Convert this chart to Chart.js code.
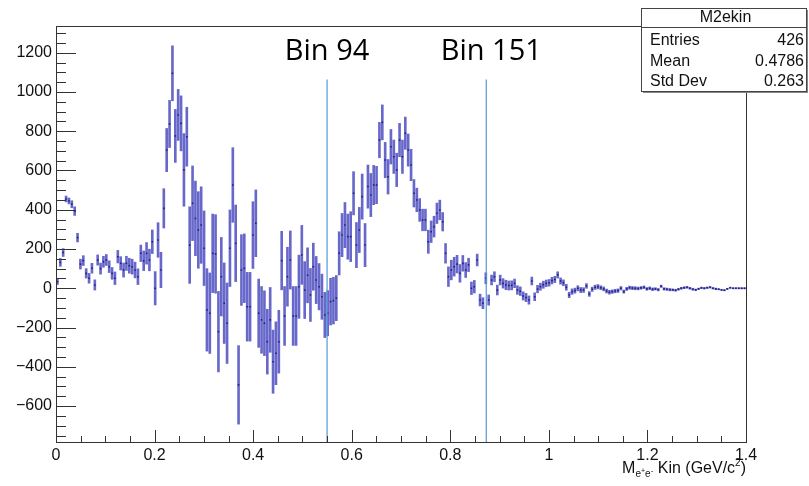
<!DOCTYPE html>
<html>
<head>
<meta charset="utf-8">
<title>M2ekin</title>
<script src="https://cdn.jsdelivr.net/npm/chart.js@4.4.1/dist/chart.umd.min.js"></script>
<style>
    html, body { margin: 0; padding: 0; background: #fff; }
    #wrap { width: 809px; height: 486px; }
</style>
</head>
<body>
<div id="wrap"><canvas id="m2ekin-chart" width="809" height="486"></canvas></div>
<script>
// histogram M2ekin: 240 bins from 0 to 1.4 GeV/c^2
var nBins = 240;
var xLow = 0;
var xHigh = 1.4;

var counts = [
    34, 132, 182, 455, 445, 428, 393, 258,
    123, 141, 76, 51, 102, 17, 144, 100, 135, 144, 110, 76, 51, 161, 127, 93, 127, 115, 110, 93, 59, 178, 140, 178, 144, 237, 0, 246, 93, 407,
    704, 837, 1095, 776, 883, 840, 603, 772, 220, 433, 356, 297, 322, 204,
    -110, -127, 178, 175, -221, 59, -76, -178, 204, 526, 229, -492, 93, 102, -94, -94, 271, 331, -127,
    -161, -178, -272, -161, -374, -331, -272, 141, -141, 59, 144, -141, -141, 8, 170, -9, 66, -34, 110, 42, 8, -43, -136,
    -127, -68, -63, -50, 178, 271, 322, 263, 263, 484, 220, 297, 467, 220, 518, 475, 526, 526, 755, 845,
    653, 568, 721, 670, 603, 755, 670, 790, 704, 628, 484, 450, 399, 348, 348, 237, 288, 314, 382, 399, 339, 178,
    59, 93, 110, 123, 76, 127, 93, 119, 0, 8, 144, -60, -76, 51, -60, 42, 59, -9,
    42, 25, 17, 14, 15, 25, -9, -15, -39, -47, -60,
    37, -43, -4, 8, 18, 25, 28, 39, 45, 68,
    37, 28, 5, -34, -17, -12, 0, -9, -9, 12, -29,
    -5, 5, 8, 3, -3, -14, -20, -17, -14, -12, 0, -17, -3, 3, 1, 0, -1, 2, 5, -3, 0, -5, -3, -7, 10, -3, -5, -7,
    -8, -10, -5, 0, 3, 5, 0, -5, -8, -3, 2, 0, 3, 5, 0, -3, -5, -8, -10, -3, 3, 0, 0, 0, 0, 0
];

var errors = [
    15, 20, 20, 15, 15, 18, 22, 22,
    25, 25, 24, 25, 25, 26, 26, 28, 28, 28, 30, 30, 32, 32, 34, 36, 36, 38, 38, 40, 40, 42, 50, 55, 55, 60, 85, 88, 90, 100,
    110, 120, 140, 135, 130, 140, 185, 150, 195, 190, 190, 195, 195, 190,
    210, 205, 200, 200, 205, 200, 205, 205, 195, 190, 195, 200, 180, 175, 175, 175, 170, 170, 174,
    170, 165, 165, 165, 161, 160, 160, 149, 150, 150, 148, 150, 150, 161, 150, 145, 140, 135, 120, 120, 118, 115, 115,
    115, 119, 119, 115, 110, 110, 115, 115, 127, 110, 115, 115, 115, 110, 110, 110, 100, 95, 90, 89,
    90, 88, 88, 85, 85, 85, 85, 82, 82, 80, 70, 60, 58, 55, 55, 59, 55, 53, 52, 50, 47, 50,
    50, 50, 48, 45, 45, 40, 38, 34, 32, 32, 30, 30, 28, 28, 26, 25, 25, 25,
    25, 24, 24, 23, 23, 22, 22, 22, 21, 21, 21,
    20, 20, 19, 18, 18, 17, 17, 17, 16, 16,
    16, 15, 15, 14, 14, 13, 13, 13, 12, 12, 12,
    11, 11, 11, 10, 10, 10, 10, 9, 9, 9, 9, 8, 8, 8, 8, 8, 7, 7, 7, 7, 7, 7, 6, 6, 6, 6, 6, 6,
    5, 5, 5, 5, 5, 5, 5, 5, 4, 4, 4, 4, 4, 4, 4, 4, 3, 3, 3, 3, 3, 3, 3, 3, 3, 3
];

var xTicks = [0, 0.2, 0.4, 0.6, 0.8, 1, 1.2, 1.4];
var yTicks = [-600, -400, -200, 0, 200, 400, 600, 800, 1000, 1200];
var yMin = -783;
var yMax = 1336;

// the two bin markers
var markerBins = [94, 151];
var markerX = [0.550, 0.873];
var markerTop = 1064;

var statsTitle = 'M2ekin';
var statsNames = ['Entries', 'Mean', 'Std Dev'];
var statsValues = ['426', '0.4786', '0.263'];

var binWidth = (xHigh - xLow) / nBins;

var errorBarData = counts.map(function (c, i) {
    return { x: xLow + (i + 0.5) * binWidth, y: [c - errors[i], c + errors[i]] };
});
var pointData = counts.map(function (c, i) {
    return { x: xLow + (i + 0.5) * binWidth, y: c };
});

var markerSets = markerX.map(function (mx) {
    return {
        type: 'line',
        data: [{ x: mx, y: yMin }, { x: mx, y: markerTop }],
        borderColor: 'rgb(84,152,214)',
        borderWidth: 1.2,
        pointRadius: 0,
        order: 0
    };
});

function drawAxisTitle(ctx, right, base) {
    var parts = [
        { t: 'M', size: 16, dy: 0 },
        { t: 'e', size: 10, dy: 4 },
        { t: '+', size: 7, dy: 0 },
        { t: 'e', size: 10, dy: 4 },
        { t: '-', size: 8, dy: 0 },
        { t: ' Kin (GeV/c', size: 16, dy: 0 },
        { t: '2', size: 10, dy: -7 },
        { t: ')', size: 16, dy: 0 }
    ];
    var total = 0;
    parts.forEach(function (p) {
        ctx.font = p.size + 'px "Liberation Sans"';
        p.w = ctx.measureText(p.t).width;
        total += p.w;
    });
    var x = right - total;
    ctx.textAlign = 'left';
    ctx.textBaseline = 'alphabetic';
    parts.forEach(function (p) {
        ctx.font = p.size + 'px "Liberation Sans"';
        ctx.fillText(p.t, x, base + p.dy);
        x += p.w;
    });
}

var rootFrame = {
    id: 'rootFrame',
    afterDraw: function (chart) {
        var ctx = chart.ctx;
        var a = chart.chartArea;
        var xs = chart.scales.x;
        var ys = chart.scales.y;
        var v, k, px, len;

        ctx.save();
        ctx.strokeStyle = '#333';
        ctx.lineWidth = 1;
        ctx.strokeRect(Math.round(a.left) + 0.5, Math.round(a.top) + 0.5,
            Math.round(a.right - a.left), Math.round(a.bottom - a.top));

        // ticks point inward, like ROOT
        ctx.beginPath();
        for (v = -750; v <= 1300; v += 50) {
            px = Math.round(ys.getPixelForValue(v)) + 0.5;
            len = (v % 200 === 0) ? 20 : 10;
            ctx.moveTo(a.left, px);
            ctx.lineTo(a.left + len, px);
        }
        for (k = 0; k <= 28; k++) {
            px = Math.round(xs.getPixelForValue(k * 0.05)) + 0.5;
            len = (k % 4 === 0) ? 12 : 6;
            ctx.moveTo(px, a.bottom);
            ctx.lineTo(px, a.bottom - len);
        }
        ctx.stroke();

        // stats box
        var bx = 641, by = 8, bw = 165, bh = 83;
        ctx.fillStyle = '#888';
        ctx.fillRect(bx + 2, by + bh, bw, 2);
        ctx.fillRect(bx + bw, by + 2, 2, bh);
        ctx.fillStyle = '#fff';
        ctx.fillRect(bx, by, bw, bh);
        ctx.strokeStyle = '#444';
        ctx.strokeRect(bx + 0.5, by + 0.5, bw, bh);
        ctx.beginPath();
        ctx.moveTo(bx, by + 19.5);
        ctx.lineTo(bx + bw, by + 19.5);
        ctx.stroke();

        ctx.fillStyle = '#111';
        ctx.font = '16px "Liberation Sans"';
        ctx.textBaseline = 'middle';
        ctx.textAlign = 'center';
        ctx.fillText(statsTitle, bx + bw / 2 + 2, by + 10);
        statsNames.forEach(function (name, i) {
            var ry = by + 33 + i * 20.5;
            ctx.textAlign = 'left';
            ctx.fillText(name, bx + 9, ry);
            ctx.textAlign = 'right';
            ctx.fillText(statsValues[i], bx + bw - 2, ry);
        });

        // bin labels
        ctx.font = '29px "Open Sans"';
        ctx.textAlign = 'center';
        ctx.textBaseline = 'alphabetic';
        ctx.fillStyle = '#000';
        var nudge = [0, 5];
        markerBins.forEach(function (b, i) {
            ctx.fillText('Bin ' + b, xs.getPixelForValue(markerX[i]) + nudge[i], 60);
        });

        ctx.fillStyle = '#111';
        drawAxisTitle(ctx, a.right, 473);
        ctx.restore();
    }
};

function drawHistogram() {
    var ctx = document.getElementById('m2ekin-chart');

    new Chart(ctx, {
        type: 'bar',
        data: {
            datasets: [{
                type: 'bar',
                data: errorBarData,
                backgroundColor: 'rgba(46,46,182,0.72)',
                borderWidth: 0,
                barThickness: 2,
                grouped: false,
                order: 2
            }, {
                type: 'scatter',
                data: pointData,
                pointStyle: 'rect',
                pointRadius: 1.1,
                backgroundColor: '#1e1e78',
                borderWidth: 0,
                order: 1
            }].concat(markerSets)
        },
        options: {
            responsive: false,
            animation: false,
            devicePixelRatio: 1,
            layout: { padding: { left: 0, top: 26, right: 63, bottom: 0 } },
            plugins: {
                legend: { display: false },
                tooltip: { enabled: false }
            },
            scales: {
                x: {
                    type: 'linear',
                    min: xLow,
                    max: xHigh,
                    offset: false,
                    grid: { display: false, drawTicks: false },
                    border: { display: false },
                    afterBuildTicks: function (axis) {
                        axis.ticks = xTicks.map(function (t) { return { value: t }; });
                    },
                    afterFit: function (axis) { axis.height = 44; },
                    ticks: {
                        autoSkip: false,
                        maxRotation: 0,
                        padding: 4,
                        color: '#111',
                        font: { family: 'Liberation Sans', size: 16 },
                        callback: function (v) { return String(Math.round(v * 10) / 10); }
                    }
                },
                y: {
                    min: yMin,
                    max: yMax,
                    grid: { display: false, drawTicks: false },
                    border: { display: false },
                    afterBuildTicks: function (axis) {
                        axis.ticks = yTicks.map(function (t) { return { value: t }; });
                    },
                    afterFit: function (axis) { axis.width = 56; },
                    ticks: {
                        padding: 4,
                        color: '#111',
                        font: { family: 'Liberation Sans', size: 16 },
                        callback: function (v) { return v < 0 ? '\u2212' + Math.abs(v) : String(v); }
                    }
                }
            }
        },
        plugins: [rootFrame]
    });
}

drawHistogram();
</script>
</body>
</html>
